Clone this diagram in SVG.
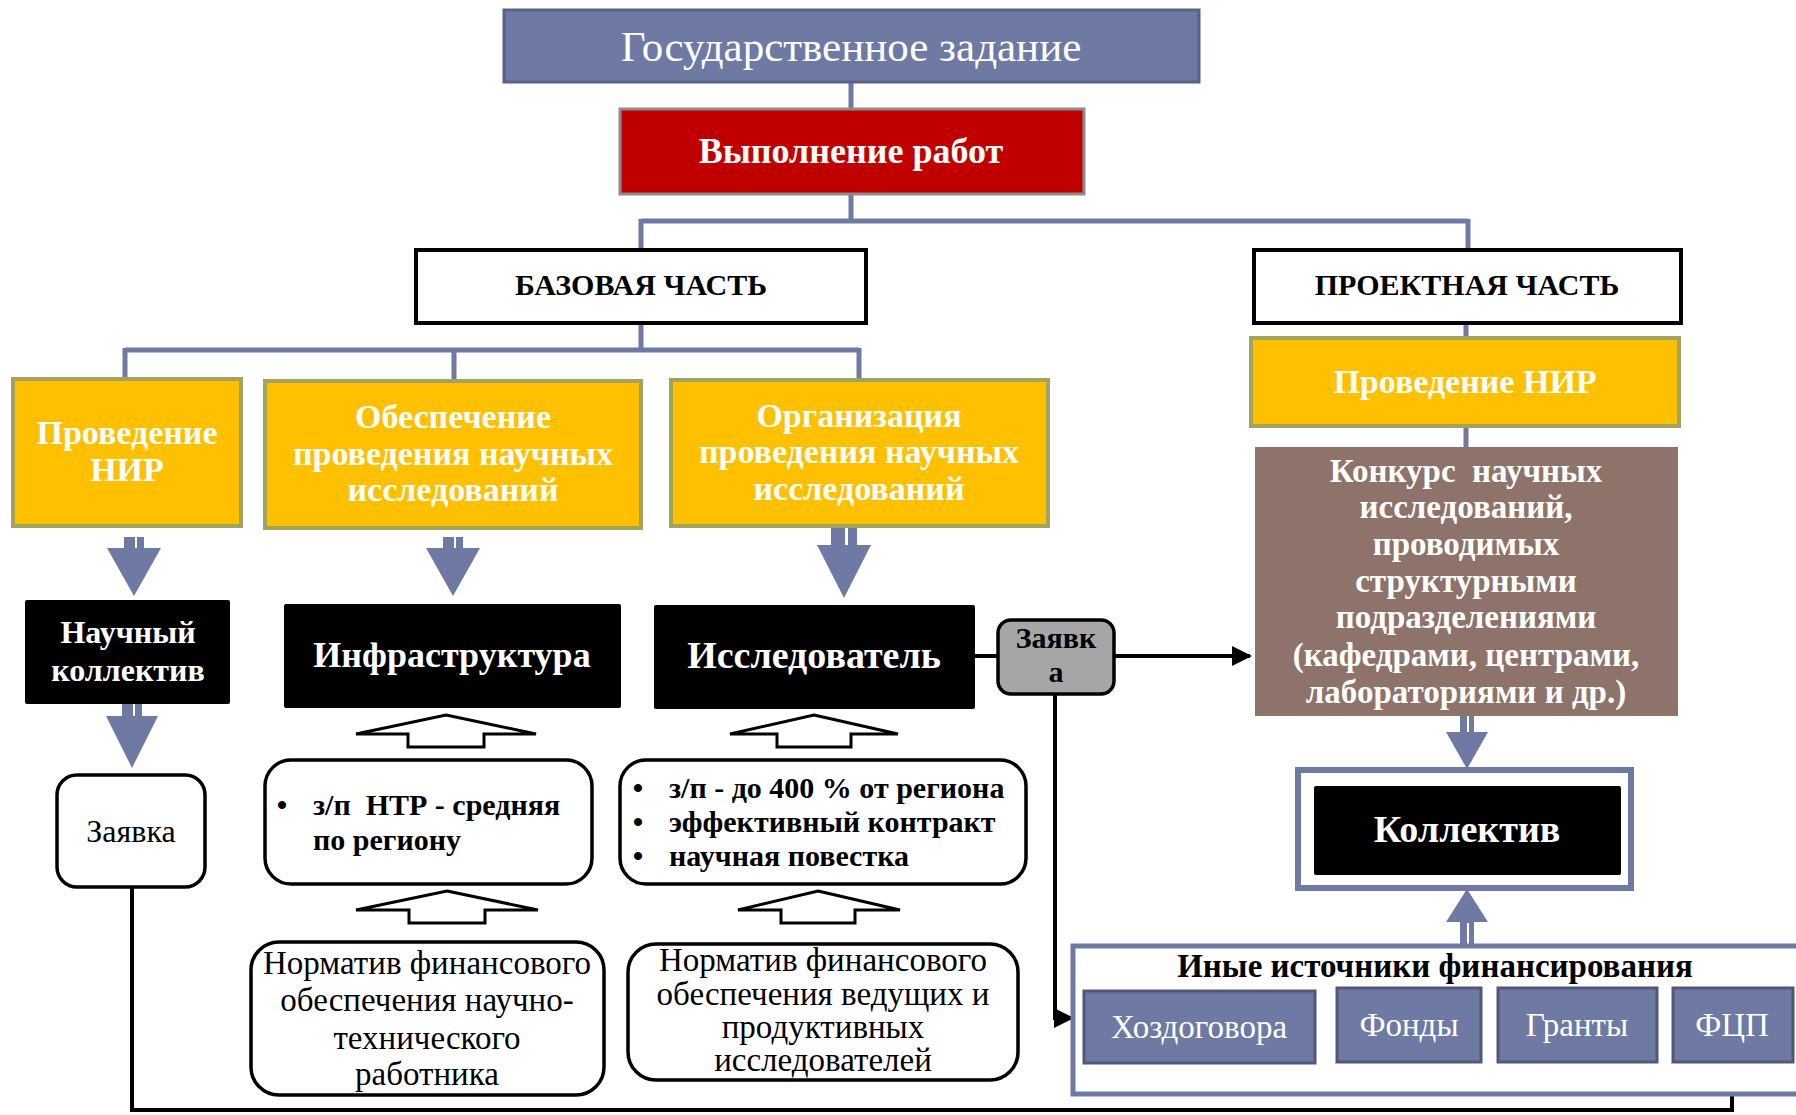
<svg xmlns="http://www.w3.org/2000/svg" width="1796" height="1115" viewBox="0 0 1796 1115">
<defs>
<style>
text{font-family:"Liberation Serif","DejaVu Serif",serif;text-anchor:middle}
.w{fill:#fff}.k{fill:#000}.b{font-weight:bold}
.slate{fill:#6e7aa3}
.conn{fill:none;stroke:#6e7aa3;stroke-width:5}
.blk{fill:none;stroke:#000;stroke-width:4}
.yel{fill:#ffc000;stroke:#a3a35e;stroke-width:4}
.src{fill:#6e7aa3;stroke:#4f587c;stroke-width:3}
.out{fill:#fff;stroke:#000;stroke-width:3;stroke-linejoin:miter}
.rbox{fill:#fff;stroke:#000;stroke-width:3.5}
.left{text-anchor:start}
</style>
<marker id="ah" viewBox="0 0 10 10" refX="9" refY="5" markerWidth="5" markerHeight="5" orient="auto" markerUnits="strokeWidth">
<path d="M0,0 L10,5 L0,10 Z" fill="#000"/>
</marker>
</defs>
<rect width="1796" height="1115" fill="#fff"/>

<g id="connectors">
<path class="conn" d="M851,82 V109"/>
<path class="conn" d="M851,194 V221 M641,221 H1468 M641,219 V250 M1468,219 V250"/>
<path class="conn" d="M641,323 V350 M125,350 H859 M125,348 V379 M454,348 V381 M859,348 V380"/>
<path class="conn" d="M1466,323 V338 M1466,426 V447"/>
<g class="slate">
<rect x="124" y="537" width="20" height="12"/><polygon points="107,548 161,548 134,596"/>
<rect x="443" y="537" width="20" height="12"/><polygon points="426,548 480,548 453,596"/>
<rect x="831" y="528" width="26" height="18"/><polygon points="817,545 871,545 844,598"/>
<rect x="122" y="704" width="20" height="13"/><polygon points="106,716 158,716 132,768"/>
<rect x="1460" y="716" width="14" height="17"/><polygon points="1446,732 1488,732 1467,769"/>
<rect x="1460" y="921" width="14" height="25"/><polygon points="1446,922 1488,922 1467,889"/>
</g>
<g fill="#fff">
<rect x="135" y="537" width="2" height="11"/><rect x="454" y="537" width="2" height="11"/>
<rect x="845" y="528" width="3" height="17"/><rect x="133" y="704" width="2" height="12"/>
<rect x="1467" y="716" width="2" height="16"/><rect x="1467" y="923" width="2" height="23"/>
</g>
<polygon class="out" points="446,715 536,734 484,734 484,747 408,747 408,734 356,734"/>
<polygon class="out" points="814,715 898,734 851,734 851,747 777,747 777,734 730,734"/>
<polygon class="out" points="447,891 538,910 485,910 485,923 409,923 409,910 356,910"/>
<polygon class="out" points="818,891 900,910 855,910 855,923 781,923 781,910 738,910"/>
<path class="blk" d="M975,656 H998"/>
<path class="blk" d="M1114,656 H1250" marker-end="url(#ah)"/>
<path class="blk" d="M1055,694 V1018 H1072" marker-end="url(#ah)"/>
<path class="blk" d="M132,887 V1110 H1732 V1065" marker-end="url(#ah)"/>
</g>

<g id="gos">
<rect x="504" y="10" width="695" height="72" fill="#6e7aa3" stroke="#58618a" stroke-width="3"/>
<text x="851" y="61" class="w" font-size="43">Государственное задание</text>
</g>
<g id="vypolnenie">
<rect x="620" y="109" width="464" height="85" fill="#c00000" stroke="#8c8c8c" stroke-width="3"/>
<text x="851" y="163" class="w b" font-size="36">Выполнение работ</text>
</g>
<g id="bazovaya">
<rect x="416" y="250" width="450" height="73" fill="#fff" stroke="#000" stroke-width="4"/>
<text x="641" y="295" class="k b" font-size="30">БАЗОВАЯ ЧАСТЬ</text>
</g>
<g id="proektnaya">
<rect x="1254" y="250" width="427" height="73" fill="#fff" stroke="#000" stroke-width="4"/>
<text x="1467" y="295" class="k b" font-size="30">ПРОЕКТНАЯ ЧАСТЬ</text>
</g>
<g id="nir-left">
<rect x="13" y="379" width="228" height="147" class="yel"/>
<text x="127" y="444" class="w b" font-size="34">Проведение</text>
<text x="127" y="481" class="w b" font-size="34">НИР</text>
</g>
<g id="obespechenie">
<rect x="265" y="381" width="376" height="147" class="yel"/>
<text x="453" y="428" class="w b" font-size="34">Обеспечение</text>
<text x="453" y="465" class="w b" font-size="34">проведения научных</text>
<text x="453" y="501" class="w b" font-size="34">исследований</text>
</g>
<g id="organizaciya">
<rect x="671" y="380" width="377" height="146" class="yel"/>
<text x="859" y="427" class="w b" font-size="34">Организация</text>
<text x="859" y="463" class="w b" font-size="34">проведения научных</text>
<text x="859" y="500" class="w b" font-size="34">исследований</text>
</g>
<g id="nir-right">
<rect x="1251" y="338" width="428" height="88" class="yel"/>
<text x="1465" y="393" class="w b" font-size="34">Проведение НИР</text>
</g>
<g id="konkurs">
<rect x="1255" y="447" width="423" height="269" fill="#8d736a"/>
<text x="1466" y="482" class="w b" font-size="33" style="white-space:pre">Конкурс  научных</text>
<text x="1466" y="518" class="w b" font-size="33">исследований,</text>
<text x="1466" y="555" class="w b" font-size="33">проводимых</text>
<text x="1466" y="592" class="w b" font-size="33">структурными</text>
<text x="1466" y="628" class="w b" font-size="33">подразделениями</text>
<text x="1466" y="666" class="w b" font-size="33">(кафедрами, центрами,</text>
<text x="1466" y="703" class="w b" font-size="33">лабораториями и др.)</text>
</g>
<g id="nauchny-kollektiv">
<rect x="25" y="600" width="205" height="104" rx="2" fill="#000"/>
<text x="128" y="643" class="w b" font-size="32">Научный</text>
<text x="128" y="681" class="w b" font-size="32">коллектив</text>
</g>
<g id="infrastruktura">
<rect x="284" y="604" width="337" height="104" rx="2" fill="#000"/>
<text x="452" y="667" class="w b" font-size="36">Инфраструктура</text>
</g>
<g id="issledovatel">
<rect x="654" y="605" width="321" height="104" rx="2" fill="#000"/>
<text x="814" y="668" class="w b" font-size="38">Исследователь</text>
</g>
<g id="zayavka-grey">
<rect x="998" y="620" width="116" height="74" rx="13" fill="#a6a6a6" stroke="#000" stroke-width="3.5"/>
<text x="1056" y="648" class="k b" font-size="30">Заявк</text>
<text x="1056" y="682" class="k b" font-size="30">а</text>
</g>
<g id="zayavka-white">
<rect x="57" y="775" width="148" height="112" rx="20" class="rbox"/>
<text x="131" y="842" class="k" font-size="32">Заявка</text>
</g>
<g id="zp-ntr">
<rect x="265" y="760" width="327" height="124" rx="26" class="rbox"/>
<text x="282" y="815" class="k b" font-size="30">•</text>
<text x="313" y="815" class="k b left" font-size="30" style="white-space:pre">з/п  НТР - средняя</text>
<text x="313" y="850" class="k b left" font-size="30">по региону</text>
</g>
<g id="zp-400">
<rect x="620" y="760" width="406" height="124" rx="26" class="rbox"/>
<text x="638" y="798" class="k b" font-size="30">•</text>
<text x="669" y="798" class="k b left" font-size="30">з/п - до 400 % от региона</text>
<text x="638" y="832" class="k b" font-size="30">•</text>
<text x="669" y="832" class="k b left" font-size="30">эффективный контракт</text>
<text x="638" y="866" class="k b" font-size="30">•</text>
<text x="669" y="866" class="k b left" font-size="30">научная повестка</text>
</g>
<g id="normativ-1">
<rect x="251" y="942" width="353" height="153" rx="28" class="rbox"/>
<text x="427" y="974" class="k" font-size="33">Норматив финансового</text>
<text x="427" y="1011" class="k" font-size="33">обеспечения научно-</text>
<text x="427" y="1049" class="k" font-size="33">технического</text>
<text x="427" y="1085" class="k" font-size="33">работника</text>
</g>
<g id="normativ-2">
<rect x="628" y="944" width="390" height="136" rx="28" class="rbox"/>
<text x="823" y="971" class="k" font-size="33">Норматив финансового</text>
<text x="823" y="1005" class="k" font-size="33">обеспечения ведущих и</text>
<text x="823" y="1038" class="k" font-size="33">продуктивных</text>
<text x="823" y="1071" class="k" font-size="33">исследователей</text>
</g>
<g id="kollektiv">
<rect x="1298" y="770" width="333" height="118" fill="#fff" stroke="#6e7aa3" stroke-width="6"/>
<rect x="1314" y="786" width="307" height="89" rx="2" fill="#000"/>
<text x="1467" y="842" class="w b" font-size="38">Коллектив</text>
</g>
<g id="inye">
<rect x="1073" y="946" width="740" height="148" fill="#fff" stroke="#6e7aa3" stroke-width="5"/>
<text x="1435" y="977" class="k b" font-size="33">Иные источники финансирования</text>
</g>
<g id="hozdogovora">
<rect x="1084" y="991" width="231" height="72" class="src"/>
<text x="1199" y="1038" class="w" font-size="33">Хоздоговора</text>
</g>
<g id="fondy">
<rect x="1337" y="988" width="144" height="74" class="src"/>
<text x="1409" y="1036" class="w" font-size="33">Фонды</text>
</g>
<g id="granty">
<rect x="1498" y="988" width="159" height="74" class="src"/>
<text x="1577" y="1036" class="w" font-size="33">Гранты</text>
</g>
<g id="fcp">
<rect x="1673" y="988" width="120" height="74" class="src"/>
<text x="1732" y="1036" class="w" font-size="33">ФЦП</text>
</g>
</svg>
